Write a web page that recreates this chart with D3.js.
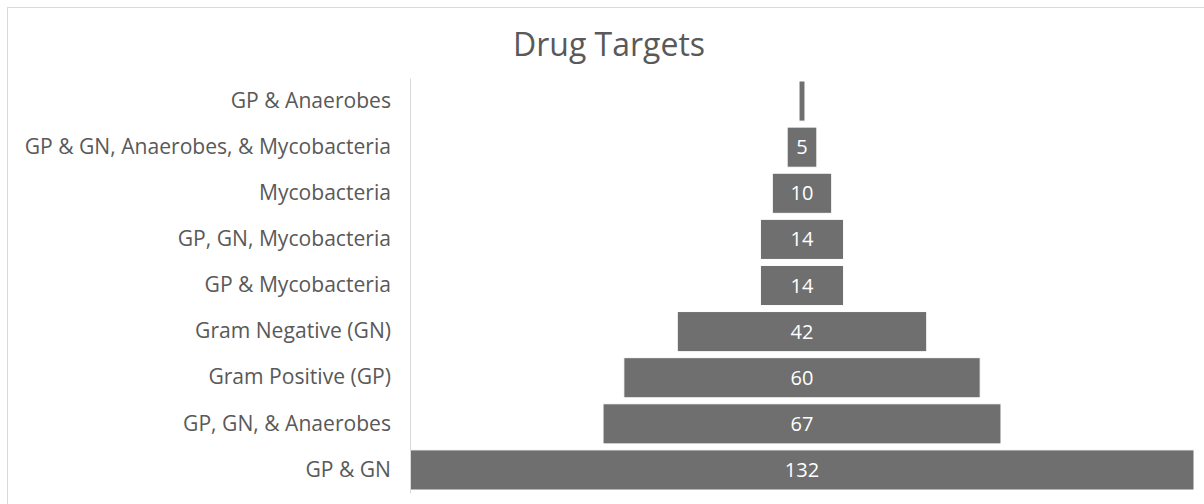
<!DOCTYPE html>
<html>
<head>
<meta charset="utf-8">
<script src="https://cdn.jsdelivr.net/npm/d3@7"></script>
<style>
  body { margin: 0; background: #fff; }
  svg { display: block; font-family: "Open Sans", sans-serif; }
</style>
</head>
<body>
<div id="chart"></div>
<script>
// funnel data, top to bottom
const categories = [
  "GP & Anaerobes",
  "GP & GN, Anaerobes, & Mycobacteria",
  "Mycobacteria",
  "GP, GN, Mycobacteria",
  "GP & Mycobacteria",
  "Gram Negative (GN)",
  "Gram Positive (GP)",
  "GP, GN, & Anaerobes",
  "GP & GN"
];
const values = [1, 5, 10, 14, 14, 42, 60, 67, 132];
const title = "Drug Targets";

const width = 1204;
const height = 504;
const plot = { left: 410, right: 1194, top: 78, bottom: 493 };

const svg = d3.select("#chart")
  .append("svg")
  .attr("width", width)
  .attr("height", height);

// chart frame (runs off the right and bottom edges)
svg.append("rect")
  .attr("x", 7.5)
  .attr("y", 7.5)
  .attr("width", 1220)
  .attr("height", 520)
  .attr("fill", "none")
  .attr("stroke", "#d9d9d9");

svg.append("text")
  .attr("x", 609)
  .attr("y", 56)
  .attr("text-anchor", "middle")
  .attr("fill", "#595959")
  .style("font-size", "32px")
  .text(title);

const y = d3.scaleBand()
  .domain(categories)
  .range([plot.top, plot.bottom])
  .paddingInner(0.13)
  .paddingOuter(0.065);

const cx = (plot.left + plot.right) / 2;
const w = d3.scaleLinear()
  .domain([0, d3.max(values)])
  .range([0, plot.right - plot.left]);

const data = categories.map((c, i) => ({ label: c, value: values[i] }));

// bars, centred on the funnel axis
svg.selectAll("rect.bar")
  .data(data)
  .enter()
  .append("rect")
  .attr("class", "bar")
  .attr("x", (d) => cx - w(d.value) / 2)
  .attr("y", (d) => y(d.label))
  .attr("width", (d) => w(d.value))
  .attr("height", y.bandwidth())
  .attr("fill", "#6f6f6f")
  .attr("stroke", "#fff")
  .attr("stroke-width", 1);

// value labels (skip ones that don't fit)
svg.selectAll("text.val")
  .data(data.filter((d) => w(d.value) > 20))
  .enter()
  .append("text")
  .attr("class", "val")
  .attr("x", cx)
  .attr("y", (d) => y(d.label) + y.bandwidth() / 2)
  .attr("dy", "0.35em")
  .attr("text-anchor", "middle")
  .attr("fill", "#fff")
  .style("font-size", "20px")
  .text((d) => d.value);

// category axis
const axis = svg.append("g")
  .attr("transform", `translate(${plot.left},0)`)
  .call(d3.axisLeft(y).tickSize(0).tickPadding(19));

axis.select(".domain").attr("stroke", "#d9d9d9");
axis.selectAll("text")
  .attr("fill", "#595959")
  .style("font-size", "21.1px")
  .style("font-family", "'Open Sans', sans-serif");
</script>
</body>
</html>
